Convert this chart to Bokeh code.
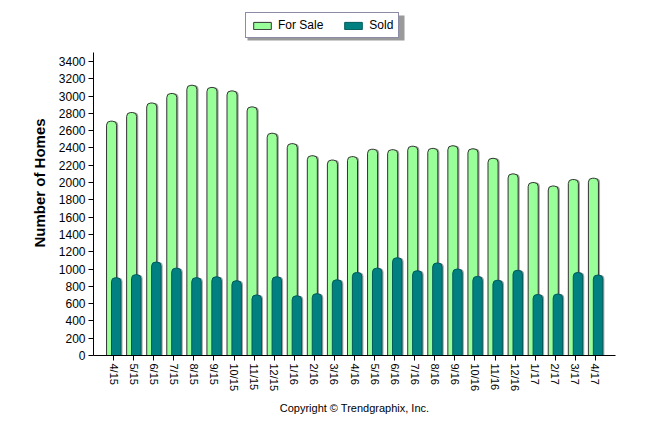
from bokeh.plotting import figure
from bokeh.models import (ColumnDataSource, Range1d, FixedTicker, Legend, LegendItem,
                          Title, BoxAnnotation)
from bokeh.embed import file_html
from bokeh.resources import INLINE

months = ["4/15", "5/15", "6/15", "7/15", "8/15", "9/15", "10/15", "11/15", "12/15",
          "1/16", "2/16", "3/16", "4/16", "5/16", "6/16", "7/16", "8/16", "9/16",
          "10/16", "11/16", "12/16", "1/17", "2/17", "3/17", "4/17"]
for_sale = [2710, 2810, 2920, 3030, 3125, 3100, 3060, 2875, 2570,
            2450, 2310, 2260, 2300, 2385, 2380, 2420, 2395, 2425,
            2390, 2280, 2100, 2000, 1960, 2035, 2050]
sold = [900, 935, 1080, 1010, 900, 910, 865, 700, 910,
        690, 715, 875, 960, 1010, 1130, 980, 1070, 1000,
        915, 870, 985, 705, 710, 960, 930]
y_ticks = list(range(0, 3401, 200))

idx = list(range(len(months)))
src = ColumnDataSource(dict(
    fs_x=[i - 0.1 for i in idx], fs_sh=[i - 0.02 for i in idx],
    sd_x=[i + 0.13 for i in idx], sd_sh=[i + 0.21 for i in idx],
    for_sale=for_sale, sold=sold))

FONT = "Liberation Sans"
p = figure(width=638, height=426, output_backend="svg", toolbar_location=None,
           x_range=Range1d(-1, 25), y_range=Range1d(0, 3990),
           min_border_left=93, min_border_right=23, min_border_top=10,
           min_border_bottom=71)
p.outline_line_color = None
p.xgrid.visible = False
p.ygrid.visible = False
p.background_fill_color = "white"
p.border_fill_color = "white"

# shadows
p.vbar(x="fs_sh", top="for_sale", width=0.5, source=src, fill_color="#8c8c8c",
       line_color=None, fill_alpha=0.8, border_radius=(4, 4, 0, 0))
r_fs = p.vbar(x="fs_x", top="for_sale", width=0.5, source=src, fill_color="#99FF99",
              line_color="#333333", line_width=1, border_radius=(4, 4, 0, 0))
p.vbar(x="sd_sh", top="sold", width=0.47, source=src, fill_color="#8c8c8c",
       line_color=None, fill_alpha=0.8, border_radius=(4, 4, 0, 0))
r_sd = p.vbar(x="sd_x", top="sold", width=0.47, source=src, fill_color="#008080",
              line_color="#005a5a", line_width=1, border_radius=(4, 4, 0, 0))

xa = p.xaxis[0]
xa.ticker = FixedTicker(ticks=idx)
xa.major_label_overrides = {i: m for i, m in enumerate(months)}
xa.major_label_orientation = "vertical"
xa.major_label_text_font = FONT
xa.major_label_text_font_size = "11px"
xa.major_label_text_color = "black"
xa.major_tick_out = 5
xa.major_tick_in = 0
xa.minor_tick_line_color = None
xa.axis_line_color = "black"
xa.major_tick_line_color = "black"
xa.major_label_standoff = 3

ya = p.yaxis[0]
ya.ticker = FixedTicker(ticks=y_ticks)
ya.bounds = (0, 3500)
ya.major_label_text_font = FONT
ya.major_label_text_font_size = "12px"
ya.major_label_text_color = "black"
ya.major_tick_out = 5
ya.major_tick_in = 0
ya.minor_tick_line_color = None
ya.axis_line_color = "black"
ya.major_tick_line_color = "black"
ya.major_label_standoff = 3
ya.axis_label = "Number of Homes"
ya.axis_label_text_font = FONT
ya.axis_label_text_font_size = "15px"
ya.axis_label_text_font_style = "bold"
ya.axis_label_text_color = "black"
ya.axis_label_standoff = 8

# legend drop shadow
p.add_layout(BoxAnnotation(left=154, right=311, bottom=315, top=340,
                           left_units="screen", right_units="screen",
                           bottom_units="screen", top_units="screen",
                           fill_color="#9a9a9a", fill_alpha=1, line_color=None,
                           editable=False))
legend = Legend(items=[LegendItem(label="For Sale", renderers=[r_fs]),
                       LegendItem(label="Sold", renderers=[r_sd])],
                location=(152, 317), orientation="horizontal",
                glyph_width=22, glyph_height=9, label_standoff=5, spacing=19,
                padding=5, label_height=12, label_text_font=FONT,
                label_text_font_size="12px", label_text_color="black",
                border_line_color="#1a1a4d", border_line_width=1,
                background_fill_color="white", background_fill_alpha=1,
                margin=0)
p.add_layout(legend, "center")

p.add_layout(Title(text="Copyright \u00a9 Trendgraphix, Inc.", align="center",
                   text_font=FONT, text_font_size="11px", text_font_style="normal",
                   text_color="black", standoff=10), "below")

open("out.html", "w").write(file_html(p, INLINE))
